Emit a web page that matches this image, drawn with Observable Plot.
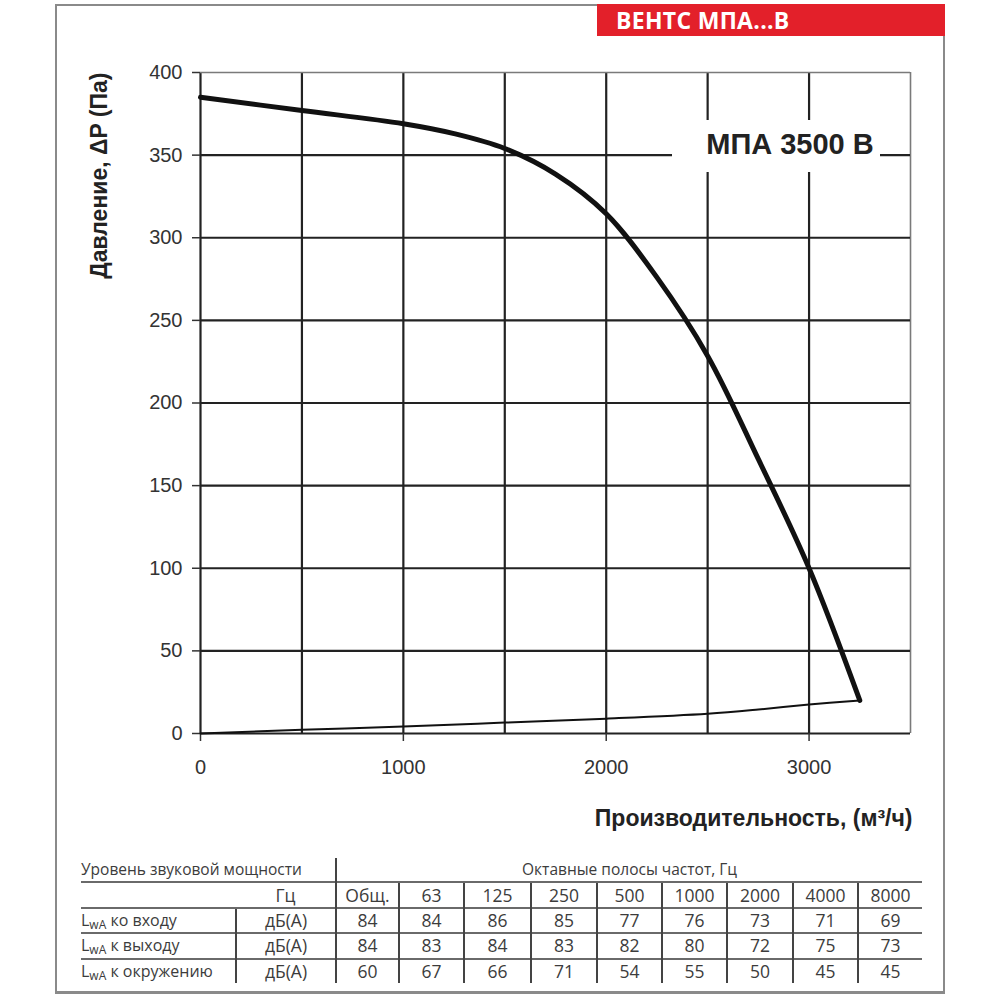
<!DOCTYPE html>
<html>
<head>
<meta charset="utf-8">
<script src="https://cdn.jsdelivr.net/npm/d3@7"></script>
<script src="https://cdn.jsdelivr.net/npm/@observablehq/plot@0.6"></script>
<style>
  html, body { margin: 0; padding: 0; background: #fff; }
  #page { position: relative; width: 1000px; height: 1000px; overflow: hidden; font-family: "Liberation Sans", Arial, sans-serif; }
  .frame { position: absolute; background: #8a8a8a; }
  #header { position: absolute; left: 597px; top: 4px; width: 348px; height: 32px; background: #e3202a; color: #fff;
            font-family: "Open Sans", sans-serif; font-weight: 700; font-size: 23px; line-height: 32px; box-sizing: border-box; padding-left: 19px; letter-spacing: 0.3px; }
  #chart { position: absolute; left: 0; top: 0; }
  #model { position: absolute; left: 672px; top: 120px; width: 208px; height: 52px; background: #fff; color: #222;
           font-family: "Liberation Sans", Arial, sans-serif; font-weight: 700; font-size: 29px; line-height: 48px; text-align: center; padding-left: 28px; box-sizing: border-box; white-space: nowrap; }
  #tbl { position: absolute; left: 81px; top: 858px; border-collapse: collapse; font-family: "Open Sans", sans-serif; font-size: 15.5px; color: #3c3c3c; table-layout: fixed; }
  #tbl td { padding: 0; height: 23.4px; line-height: 23px; text-align: center; white-space: nowrap; }
  #tbl td.num { font-size: 17.5px; }
  #tbl tr + tr td { border-top: 2px solid #6a6a6a; }
  #tbl td.vl { border-left: 2px solid #444; }
  #tbl td.lbl { text-align: left; }
  #tbl td.rl { font-size: 16px; }
  #tbl sub { font-size: 12px; vertical-align: -3px; line-height: 0; }
</style>
</head>
<body>
<div id="page">
  <div class="frame" style="left:55px; top:4px; width:543px; height:1.5px;"></div>
  <div class="frame" style="left:55px; top:4px; width:1.5px; height:990px;"></div>
  <div class="frame" style="left:943px; top:36px; width:1.5px; height:958px;"></div>
  <div class="frame" style="left:55px; top:991px; width:890px; height:2.5px;"></div>
  <div id="header"></div>
  <div id="chart"></div>
  <div id="model"></div>
  <table id="tbl"></table>
</div>
<script>
// ---- data ----
const headerText = "ВЕНТС МПА...В";
const modelName = "МПА 3500 В";
const yLabel = "Давление, ΔP (Па)";
const xLabel = "Производительность, (м³/ч)";

const xGridValues = [0, 500, 1000, 1500, 2000, 2500, 3000, 3500];
const xTickValues = [0, 1000, 2000, 3000];
const yTickValues = [0, 50, 100, 150, 200, 250, 300, 350, 400];

// fan pressure curve
const curveFlow = [0, 500, 1000, 1250, 1500, 1750, 2000, 2250, 2500, 2750, 3000, 3250];
const curvePressure = [385, 377, 369, 363, 354, 338.5, 314.5, 276, 228.5, 166, 100, 20];

// system (network) curve
const netFlow = [0, 500, 1000, 1500, 2000, 2500, 2750, 3000, 3250];
const netPressure = [0, 2.2, 4.2, 6.6, 9, 12, 14.5, 17.5, 20];

// sound table
const tableTitleLeft = "Уровень звуковой мощности";
const tableTitleRight = "Октавные полосы частот, Гц";
const hzLabel = "Гц";
const bandLabels = ["Общ.", "63", "125", "250", "500", "1000", "2000", "4000", "8000"];
const rowLabels = ["ко входу", "к выходу", "к окружению"];
const unitLabel = "дБ(А)";
const rowInlet = [84, 84, 86, 85, 77, 76, 73, 71, 69];
const rowOutlet = [84, 83, 84, 83, 82, 80, 72, 75, 73];
const rowAmbient = [60, 67, 66, 71, 54, 55, 50, 45, 45];

// ---- chart ----
const curve = curveFlow.map((x, i) => ({x, y: curvePressure[i]}));
const net = netFlow.map((x, i) => ({x, y: netPressure[i]}));

const fontTick = "Liberation Sans, Arial, sans-serif";
const chart = Plot.plot({
  width: 1000,
  height: 800,
  marginLeft: 200,
  marginRight: 90,
  marginTop: 72,
  marginBottom: 67,
  style: {fontFamily: fontTick, background: "transparent", overflow: "visible"},
  x: {domain: [0, 3500]},
  y: {domain: [0, 400]},
  marks: [
    Plot.gridX(xGridValues, {stroke: d => d === 3500 ? "#7a7a7a" : "#222", strokeWidth: d => d === 3500 ? 1.6 : 2.2, strokeOpacity: 1}),
    Plot.gridY(yTickValues, {stroke: d => d === 400 ? "#7a7a7a" : "#222", strokeWidth: d => d === 400 ? 1.6 : 2.2, strokeOpacity: 1}),
    Plot.axisX(xTickValues, {tickSize: 8, tickPadding: 18, fontSize: 20, color: "#333", stroke: "#333", strokeWidth: 1.5, label: null, tickFormat: d => String(d)}),
    Plot.axisY(yTickValues, {tickSize: 8, tickPadding: 10, fontSize: 20, color: "#333", stroke: "#333", strokeWidth: 1.5, label: null, tickFormat: d => String(d)}),
    Plot.line(net, {x: "x", y: "y", stroke: "#111", strokeWidth: 2, curve: "catmull-rom"}),
    Plot.line(curve, {x: "x", y: "y", stroke: "#111", strokeWidth: 5, curve: "catmull-rom", strokeLinecap: "round"}),
    Plot.text([yLabel], {frameAnchor: "top-left", text: d => d, rotate: -90, textAnchor: "end", lineAnchor: "middle", dx: -101, dy: 0, fontSize: 23, fontWeight: "bold", fill: "#222"}),
    Plot.text([xLabel], {frameAnchor: "bottom-right", text: d => d, textAnchor: "end", lineAnchor: "middle", dx: 2, dy: 85, fontSize: 23, fontWeight: "bold", fill: "#222"})
  ]
});
document.getElementById("chart").appendChild(chart);
document.getElementById("header").textContent = headerText;
document.getElementById("model").textContent = modelName;

// ---- table ----
const tbl = document.getElementById("tbl");
const colW = [155, 100, 63, 65, 67, 66, 65, 65, 66, 65, 64];
const cg = document.createElement("colgroup");
colW.forEach(w => { const c = document.createElement("col"); c.style.width = w + "px"; cg.appendChild(c); });
tbl.appendChild(cg);
function addRow(cells) {
  const tr = document.createElement("tr");
  cells.forEach(c => {
    const td = document.createElement("td");
    if (c.html !== undefined) td.innerHTML = c.html; else td.textContent = c.text;
    if (c.cls) td.className = c.cls;
    if (c.span) td.colSpan = c.span;
    tr.appendChild(td);
  });
  tbl.appendChild(tr);
}
addRow([{text: tableTitleLeft, cls: "lbl", span: 2}, {text: tableTitleRight, cls: "vl", span: 9}]);
addRow([{text: ""}, {text: hzLabel, cls: "num"}].concat(bandLabels.map(b => ({text: b, cls: "vl num"}))));
[rowInlet, rowOutlet, rowAmbient].forEach((vals, i) => {
  addRow([{html: "L<sub>wA</sub> " + rowLabels[i], cls: "lbl rl"}, {text: unitLabel, cls: "vl num"}].concat(vals.map(v => ({text: String(v), cls: "vl num"}))));
});
</script>
</body>
</html>
